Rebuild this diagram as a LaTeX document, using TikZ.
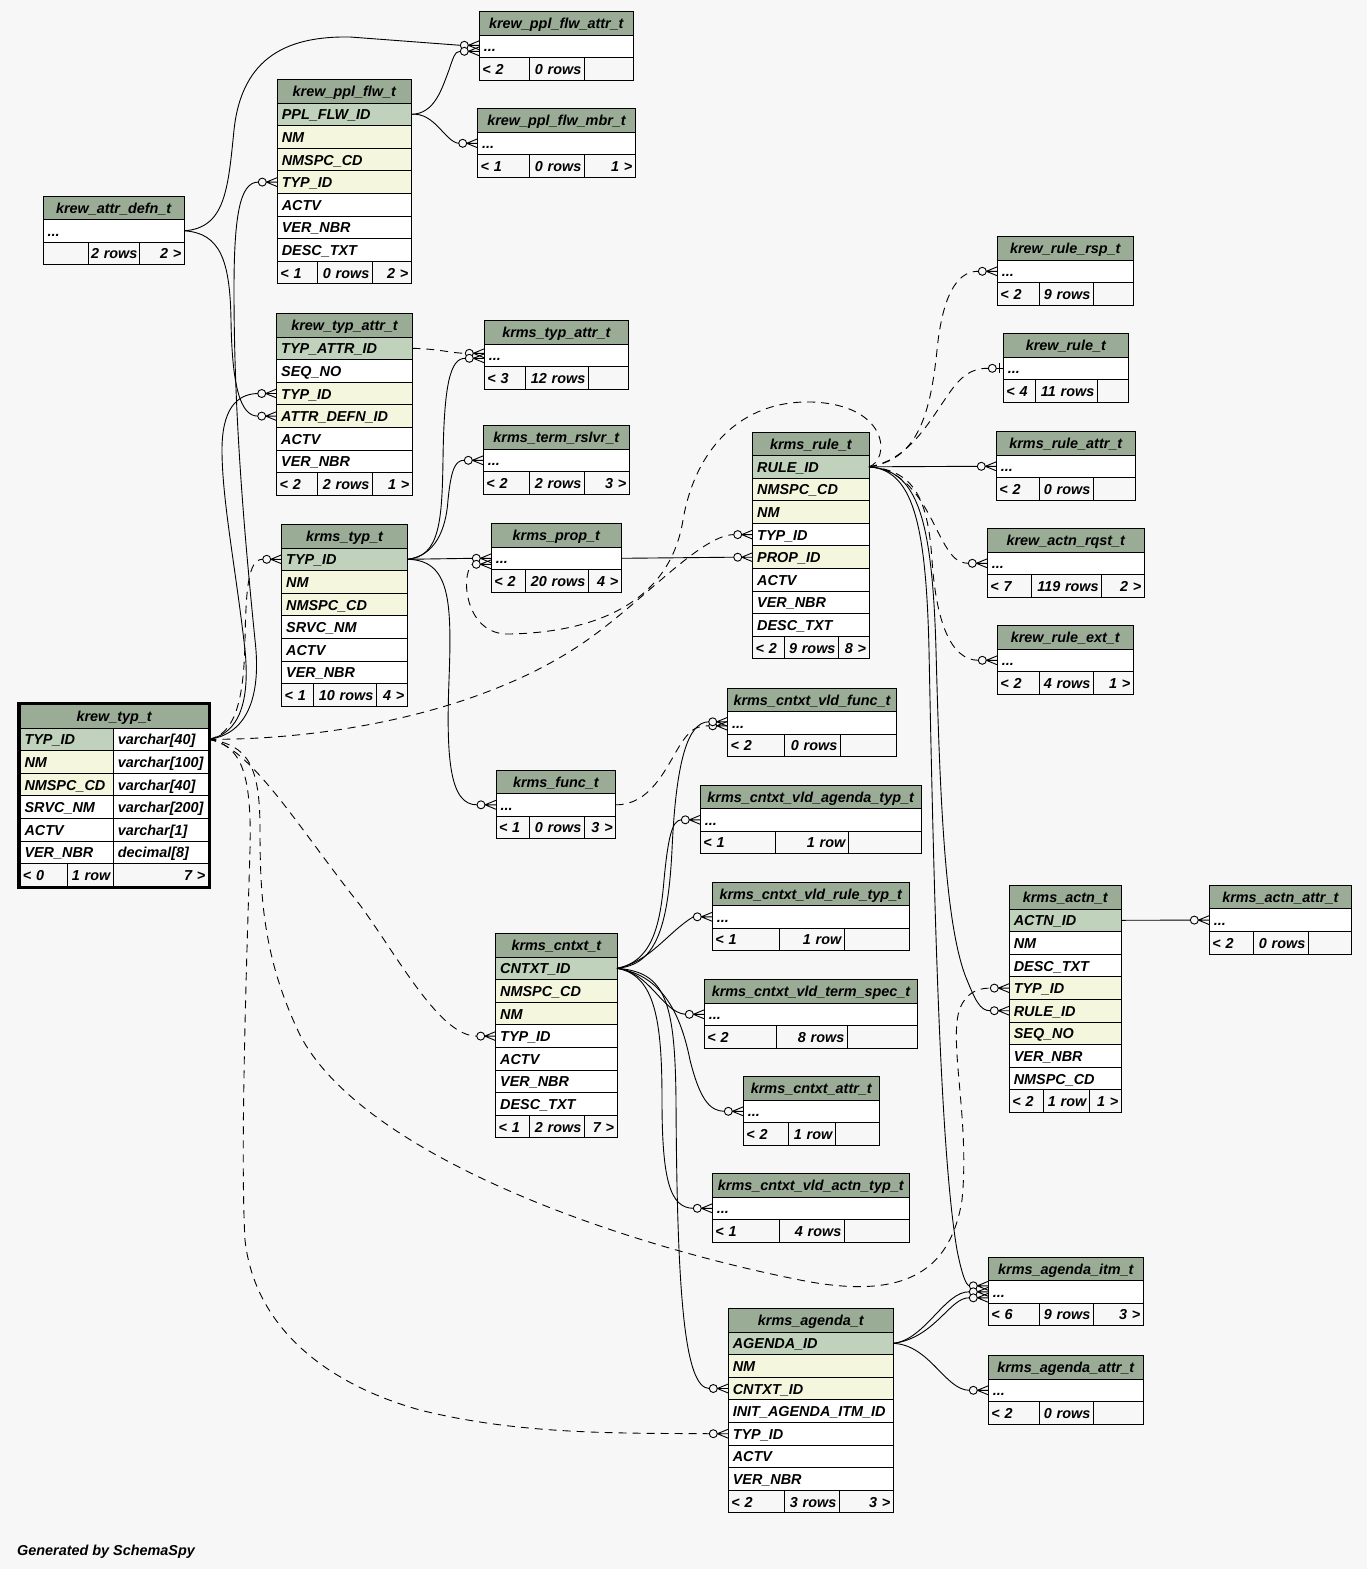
\documentclass[tikz,border=0pt]{standalone}
\usepackage{fontspec}
\setmainfont{Liberation Sans}
\usepackage{tikz}
\usetikzlibrary{positioning}
\usepackage{xcolor}

\definecolor{hdc}{RGB}{154,171,150}
\definecolor{pkc}{RGB}{192,209,188}
\definecolor{fkc}{RGB}{244,246,222}
\definecolor{bgc}{RGB}{247,247,247}
\newcommand\tblfont{\fontsize{14.4pt}{16pt}\selectfont\bfseries\itshape}
\newcommand\dts{...}

\tikzset{
  cell/.style={draw, line width=1pt, outer sep=0pt, inner xsep=4.5pt, inner ysep=0pt,
    minimum height=22.6pt, text height=12pt, text depth=1pt, font=\tblfont, align=left},
  tblhead/.style={cell, fill=hdc, align=center, minimum height=23.5pt, anchor=north west},
  tblrow/.style={cell},
  tblfoot/.style={cell, fill=bgc, inner xsep=3pt},
  rel/.style={line width=0.9pt},
  implied/.style={rel, dash pattern=on 8pt off 6pt},
}

\newcommand\tblbox[6]{%
  \pgfmathsetmacro\tblt{#4-#2-9}%
  \xdef\tblL{#2}\xdef\tblR{#4}%
  \node[tblhead, text width=\tblt pt] (#1-h) at (#2,#3) {#5};%
  \xdef\tblprev{#1-h}%
  \foreach \st/\lb [count=\rw] in {#6} {%
    \node[tblrow, fill=\st, text width=\tblt pt, below=0pt of \tblprev] (#1-\rw) {\lb};%
    \xdef\tblprev{#1-\rw}%
  }%
}
\newcommand\tblfoot[6]{%
  \pgfmathsetmacro\fwa{#2-\tblL-6}%
  \pgfmathsetmacro\fwb{#3-#2-6}%
  \pgfmathsetmacro\fwc{\tblR-#3-6}%
  \node[tblfoot, text width=\fwa pt, anchor=north west] (#1-fa) at (\tblprev.south west) {\mbox{#4}};%
  \node[tblfoot, text width=\fwb pt, align=right, anchor=north west] (#1-fb) at (#1-fa.north east) {\mbox{#5}};%
  \node[tblfoot, text width=\fwc pt, align=right, anchor=north west] (#1-fc) at (#1-fb.north east) {\mbox{#6}};%
}
\newcommand\crowfoot[2]{%
  \draw[line width=0.9pt] ([shift={(-11,#2)}]#1.west) -- ([shift={(0,#2-4.5)}]#1.west)
    ([shift={(-11,#2)}]#1.west) -- ([shift={(0,#2)}]#1.west)
    ([shift={(-11,#2)}]#1.west) -- ([shift={(0,#2+4.5)}]#1.west);
  \draw[line width=0.9pt, fill=bgc] ([shift={(-15,#2)}]#1.west) circle (4pt);
}
\newcommand\teedot[2]{%
  \draw[line width=0.9pt] ([shift={(-7,#2)}]#1.west) -- ([shift={(0,#2)}]#1.west);
  \draw[line width=1.5pt] ([shift={(-4,#2-5)}]#1.west) -- ([shift={(-4,#2+5)}]#1.west);
  \draw[line width=0.9pt, fill=bgc] ([shift={(-11,#2)}]#1.west) circle (4pt);
}

\begin{document}
\begin{tikzpicture}[x=1pt,y=-1pt]
\fill[bgc] (0,0) rectangle (1367,1569);
\useasboundingbox (0,0) rectangle (1367,1569);

\tblbox{pplflwattr}{479.3}{11.5}{633.3}{krew\_ppl\_flw\_attr\_t}{white/\dts}
\tblfoot{pplflwattr}{529.3}{584.3}{< 2}{0 rows}{}
\tblbox{pplflw}{277.3}{79.5}{411.3}{krew\_ppl\_flw\_t}{pkc/PPL\_FLW\_ID, fkc/NM, fkc/NMSPC\_CD, fkc/TYP\_ID, white/ACTV, white/VER\_NBR, white/DESC\_TXT}
\tblfoot{pplflw}{317.3}{372.3}{< 1}{0 rows}{2 >}
\tblbox{pplflwmbr}{477.7}{108.5}{635.3}{krew\_ppl\_flw\_mbr\_t}{white/\dts}
\tblfoot{pplflwmbr}{529.3}{584.3}{< 1}{0 rows}{1 >}
\tblbox{attrdefn}{43}{196}{184.3}{krew\_attr\_defn\_t}{white/\dts}
\tblfoot{attrdefn}{88}{139}{}{2 rows}{2 >}
\tblbox{typattr}{276.7}{313.5}{412.3}{krew\_typ\_attr\_t}{pkc/TYP\_ATTR\_ID, white/SEQ\_NO, fkc/TYP\_ID, fkc/ATTR\_DEFN\_ID, white/ACTV, white/VER\_NBR}
\tblfoot{typattr}{317.3}{372.3}{< 2}{2 rows}{1 >}
\tblbox{krmstypattr}{484.3}{320.5}{628.3}{krms\_typ\_attr\_t}{white/\dts}
\tblfoot{krmstypattr}{525.3}{588.3}{< 3}{12 rows}{}
\tblbox{termrslvr}{483.3}{425.5}{629.3}{krms\_term\_rslvr\_t}{white/\dts}
\tblfoot{termrslvr}{529.3}{584.3}{< 2}{2 rows}{3 >}
\tblbox{krmstyp}{281.7}{524.5}{407.3}{krms\_typ\_t}{pkc/TYP\_ID, fkc/NM, fkc/NMSPC\_CD, white/SRVC\_NM, white/ACTV, white/VER\_NBR}
\tblfoot{krmstyp}{313.3}{376.3}{< 1}{10 rows}{4 >}
\tblbox{prop}{491.3}{523.5}{621.3}{krms\_prop\_t}{white/\dts}
\tblfoot{prop}{525.3}{588.3}{< 2}{20 rows}{4 >}
\tblbox{rule}{752.7}{432}{869}{krms\_rule\_t}{pkc/RULE\_ID, fkc/NMSPC\_CD, fkc/NM, white/TYP\_ID, fkc/PROP\_ID, white/ACTV, white/VER\_NBR, white/DESC\_TXT}
\tblfoot{rule}{784.3}{838.5}{< 2}{9 rows}{8 >}
\tblbox{rulersp}{997.3}{236.5}{1133.3}{krew\_rule\_rsp\_t}{white/\dts}
\tblfoot{rulersp}{1039.3}{1093.3}{< 2}{9 rows}{}
\tblbox{krewrule}{1003.3}{333.5}{1128.3}{krew\_rule\_t}{white/\dts}
\tblfoot{krewrule}{1035.3}{1097.3}{< 4}{11 rows}{}
\tblbox{ruleattr}{996.3}{431.5}{1135.3}{krms\_rule\_attr\_t}{white/\dts}
\tblfoot{ruleattr}{1039.3}{1093.3}{< 2}{0 rows}{}
\tblbox{actnrqst}{987.3}{528.5}{1144.3}{krew\_actn\_rqst\_t}{white/\dts}
\tblfoot{actnrqst}{1031.3}{1101.7}{< 7}{119 rows}{2 >}
\tblbox{ruleext}{997.3}{625.5}{1133.3}{krew\_rule\_ext\_t}{white/\dts}
\tblfoot{ruleext}{1039.3}{1093.3}{< 2}{4 rows}{1 >}
\tblbox{vldfunc}{727.7}{688}{896.3}{krms\_cntxt\_vld\_func\_t}{white/\dts}
\tblfoot{vldfunc}{784.3}{840.3}{< 2}{0 rows}{}
\tblbox{func}{496}{770}{615.7}{krms\_func\_t}{white/\dts}
\tblfoot{func}{529.3}{584.3}{< 1}{0 rows}{3 >}
\tblbox{vldagenda}{700.3}{785}{921}{krms\_cntxt\_vld\_agenda\_typ\_t}{white/\dts}
\tblfoot{vldagenda}{775}{848.3}{< 1}{1 row}{}
\tblbox{vldruletyp}{712.3}{882}{909.3}{krms\_cntxt\_vld\_rule\_typ\_t}{white/\dts}
\tblfoot{vldruletyp}{779.3}{844.3}{< 1}{1 row}{}
\tblbox{cntxt}{495.7}{933.5}{617}{krms\_cntxt\_t}{pkc/CNTXT\_ID, fkc/NMSPC\_CD, fkc/NM, white/TYP\_ID, white/ACTV, white/VER\_NBR, white/DESC\_TXT}
\tblfoot{cntxt}{529.3}{584.3}{< 1}{2 rows}{7 >}
\tblbox{vldtermspec}{704.3}{979.5}{917.7}{krms\_cntxt\_vld\_term\_spec\_t}{white/\dts}
\tblfoot{vldtermspec}{776.3}{847.3}{< 2}{8 rows}{}
\tblbox{cntxtattr}{743.3}{1076.5}{879.3}{krms\_cntxt\_attr\_t}{white/\dts}
\tblfoot{cntxtattr}{788.3}{835.3}{< 2}{1 row}{}
\tblbox{vldactntyp}{712.3}{1173.5}{909.3}{krms\_cntxt\_vld\_actn\_typ\_t}{white/\dts}
\tblfoot{vldactntyp}{779.3}{844.3}{< 1}{4 rows}{}
\tblbox{actn}{1009.3}{885.5}{1121.3}{krms\_actn\_t}{pkc/ACTN\_ID, white/NM, white/DESC\_TXT, fkc/TYP\_ID, fkc/RULE\_ID, fkc/SEQ\_NO, white/VER\_NBR, white/NMSPC\_CD}
\tblfoot{actn}{1043.3}{1089.3}{< 2}{1 row}{1 >}
\tblbox{actnattr}{1209.3}{885.3}{1351.3}{krms\_actn\_attr\_t}{white/\dts}
\tblfoot{actnattr}{1253.3}{1308.3}{< 2}{0 rows}{}
\tblbox{agendaitm}{988.3}{1257}{1143.3}{krms\_agenda\_itm\_t}{white/\dts}
\tblfoot{agendaitm}{1039.3}{1093.3}{< 6}{9 rows}{3 >}
\tblbox{agenda}{728.3}{1308.5}{893.3}{krms\_agenda\_t}{pkc/AGENDA\_ID, fkc/NM, fkc/CNTXT\_ID, white/INIT\_AGENDA\_ITM\_ID, white/TYP\_ID, white/ACTV, white/VER\_NBR}
\tblfoot{agenda}{784.3}{839.3}{< 2}{3 rows}{3 >}
\tblbox{agendaattr}{988.3}{1355.5}{1143.3}{krms\_agenda\_attr\_t}{white/\dts}
\tblfoot{agendaattr}{1039.3}{1093.3}{< 2}{0 rows}{}

\node[tblhead, text width=179.3pt] (krewtyp-h) at (20,704.5) {krew\_typ\_t};
\xdef\tblprev{krewtyp-h}\xdef\tblL{20}\xdef\tblR{208.3}
\foreach \cl/\nm/\ty [count=\rw] in {pkc/TYP\_ID/varchar[40], fkc/NM/varchar[100], fkc/NMSPC\_CD/varchar[40], white/SRVC\_NM/varchar[200], white/ACTV/varchar[1], white/VER\_NBR/decimal[8]} {
  \node[tblrow, fill=\cl, text width=84.3pt, anchor=north west] (krewtyp-\rw) at (\tblprev.south west) {\nm};
  \node[tblrow, fill=white, text width=86pt, anchor=north west] (krewtyp-\rw-t) at (krewtyp-\rw.north east) {\ty};
  \xdef\tblprev{krewtyp-\rw}
}
\tblfoot{krewtyp}{67.3}{113.3}{< 0}{1 row}{7 >}
\draw[line width=2.6pt] ([shift={(-1.6,-1.6)}]krewtyp-h.north west) rectangle ([shift={(1.6,1.6)}]krewtyp-fc.south east);

\draw[rel] (attrdefn-1.east) .. controls (225,228) and (228,190) .. (234,130) .. controls (242,55) and (290,36) .. (350,37) -- ([shift={(-19,-1)}]pplflwattr-1.west);
\crowfoot{pplflwattr-1}{-1}
\draw[rel] (attrdefn-1.east) .. controls (220,233) and (230,260) .. (231,320) .. controls (232,385) and (240,416) .. ([shift={(-19,0)}]typattr-4.west);
\crowfoot{typattr-4}{0}

\draw[rel] (pplflw-1.east) .. controls (435,114) and (442,88) .. (449,70) .. controls (453,58) and (455,51) .. ([shift={(-19,5)}]pplflwattr-1.west);
\crowfoot{pplflwattr-1}{5}
\draw[rel] (pplflw-1.east) .. controls (435,112) and (445,142) .. ([shift={(-19,0)}]pplflwmbr-1.west);
\crowfoot{pplflwmbr-1}{0}

\draw[rel] (krewtyp-1-t.east) .. controls (245,735) and (262,700) .. (255,640) .. controls (245,540) and (234,420) .. (234,290) .. controls (234,215) and (240,182) .. ([shift={(-19,0)}]pplflw-4.west);
\crowfoot{pplflw-4}{0}
\draw[rel] (krewtyp-1-t.east) .. controls (240,734) and (250,700) .. (245,650) .. controls (236,570) and (222,500) .. (222,450) .. controls (222,410) and (236,394) .. ([shift={(-19,0)}]typattr-3.west);
\crowfoot{typattr-3}{0}
\draw[implied] (krewtyp-1-t.east) .. controls (235,735) and (244,700) .. (245,640) .. controls (246,590) and (248,559) .. ([shift={(-19,0)}]krmstyp-1.west);
\crowfoot{krmstyp-1}{0}
\draw[implied] (krewtyp-1-t.east) .. controls (330,740) and (480,712) .. (580,645) .. controls (640,605) and (700,535) .. ([shift={(-19,0)}]rule-4.west);
\crowfoot{rule-4}{0}
\draw[implied] (krewtyp-1-t.east) .. controls (250,745) and (300,830) .. (360,905) .. controls (400,960) and (440,1036) .. ([shift={(-19,0)}]cntxt-4.west);
\crowfoot{cntxt-4}{0}
\draw[implied] (krewtyp-1-t.east) .. controls (248,745) and (260,765) .. (260,830) .. controls (260,900) and (264,960) .. (300,1035) .. controls (360,1150) and (600,1240) .. (800,1280) .. controls (900,1300) and (950,1275) .. (962,1200) .. controls (970,1120) and (948,1040) .. (960,1008) .. controls (966,994) and (976,988) .. ([shift={(-19,0)}]actn-4.west);
\crowfoot{actn-4}{0}
\draw[implied] (krewtyp-1-t.east) .. controls (240,745) and (252,770) .. (250,850) .. controls (247,950) and (240,1150) .. (245,1240) .. controls (255,1330) and (330,1385) .. (420,1410) .. controls (520,1435) and (620,1433) .. ([shift={(-19,0)}]agenda-5.west);
\crowfoot{agenda-5}{0}

\draw[implied] (typattr-1.east) .. controls (440,349) and (450,353) .. ([shift={(-19,-2)}]krmstypattr-1.west);
\crowfoot{krmstypattr-1}{-2}

\draw[rel] (krmstyp-1.east) .. controls (440,557) and (442,520) .. (443,460) .. controls (444,385) and (450,358) .. ([shift={(-19,3)}]krmstypattr-1.west);
\crowfoot{krmstypattr-1}{3}
\draw[rel] (krmstyp-1.east) .. controls (435,556) and (446,530) .. (448,500) .. controls (451,470) and (455,460) .. ([shift={(-19,0)}]termrslvr-1.west);
\crowfoot{termrslvr-1}{0}
\draw[rel] (krmstyp-1.east) -- ([shift={(-19,0)}]prop-1.west);
\crowfoot{prop-1}{0}
\draw[rel] (krmstyp-1.east) .. controls (450,560) and (452,600) .. (449,680) .. controls (446,760) and (450,805) .. ([shift={(-19,0)}]func-1.west);
\crowfoot{func-1}{0}

\draw[rel] (prop-1.east) -- ([shift={(-19,0)}]rule-5.west);
\crowfoot{rule-5}{0}

\draw[implied] (rule-1.east) .. controls (890,460) and (890,405) .. (812,402) .. controls (740,400) and (695,450) .. (683,520) .. controls (670,600) and (600,632) .. (510,634) .. controls (465,636) and (460,575) .. ([shift={(-19,6)}]prop-1.west);
\crowfoot{prop-1}{6}
\draw[implied] (rule-1.east) .. controls (915,460) and (930,420) .. (937,350) .. controls (942,300) and (955,271) .. ([shift={(-19,0)}]rulersp-1.west);
\crowfoot{rulersp-1}{0}
\draw[implied] (rule-1.east) .. controls (910,460) and (930,420) .. (950,392) .. controls (960,378) and (970,368) .. ([shift={(-15,0)}]krewrule-1.west);
\teedot{krewrule-1}{0}
\draw[rel] (rule-1.east) -- ([shift={(-19,0)}]ruleattr-1.west);
\crowfoot{ruleattr-1}{0}
\draw[implied] (rule-1.east) .. controls (915,470) and (930,520) .. (945,545) .. controls (952,557) and (958,563) .. ([shift={(-19,0)}]actnrqst-1.west);
\crowfoot{actnrqst-1}{0}
\draw[implied] (rule-1.east) .. controls (915,470) and (928,500) .. (932,560) .. controls (936,620) and (950,660) .. ([shift={(-19,0)}]ruleext-1.west);
\crowfoot{ruleext-1}{0}
\draw[rel] (rule-1.east) .. controls (915,470) and (932,510) .. (936,650) .. controls (940,800) and (945,920) .. (965,975) .. controls (975,1000) and (980,1011) .. ([shift={(-19,0)}]actn-5.west);
\crowfoot{actn-5}{0}
\draw[rel] (rule-1.east) .. controls (912,470) and (926,520) .. (929,650) .. controls (934,900) and (940,1150) .. (957,1250) .. controls (962,1275) and (966,1285) .. ([shift={(-19,-6)}]agendaitm-1.west);
\crowfoot{agendaitm-1}{-6}

\draw[implied] (func-1.east) .. controls (650,805) and (665,770) .. (680,745) .. controls (690,730) and (695,726) .. ([shift={(-19,3)}]vldfunc-1.west);
\crowfoot{vldfunc-1}{3}

\draw[rel] (cntxt-1.east) .. controls (655,965) and (668,930) .. (672,850) .. controls (676,760) and (688,722) .. ([shift={(-19,-1)}]vldfunc-1.west);
\crowfoot{vldfunc-1}{-1}
\draw[rel] (cntxt-1.east) .. controls (650,962) and (660,930) .. (664,880) .. controls (668,838) and (672,820) .. ([shift={(-19,0)}]vldagenda-1.west);
\crowfoot{vldagenda-1}{0}
\draw[rel] (cntxt-1.east) .. controls (650,962) and (668,932) .. ([shift={(-19,0)}]vldruletyp-1.west);
\crowfoot{vldruletyp-1}{0}
\draw[rel] (cntxt-1.east) .. controls (650,972) and (662,1012) .. ([shift={(-19,0)}]vldtermspec-1.west);
\crowfoot{vldtermspec-1}{0}
\draw[rel] (cntxt-1.east) .. controls (660,975) and (680,1010) .. (690,1060) .. controls (700,1100) and (710,1111) .. ([shift={(-19,0)}]cntxtattr-1.west);
\crowfoot{cntxtattr-1}{0}
\draw[rel] (cntxt-1.east) .. controls (655,975) and (662,1020) .. (662,1100) .. controls (662,1180) and (670,1208) .. ([shift={(-19,0)}]vldactntyp-1.west);
\crowfoot{vldactntyp-1}{0}
\draw[rel] (cntxt-1.east) .. controls (665,972) and (675,1000) .. (676,1100) .. controls (677,1300) and (685,1388) .. ([shift={(-19,0)}]agenda-3.west);
\crowfoot{agenda-3}{0}

\draw[rel] (actn-1.east) -- ([shift={(-19,0)}]actnattr-1.west);
\crowfoot{actnattr-1}{0}

\draw[rel] (agenda-1.east) .. controls (925,1340) and (945,1291) .. ([shift={(-19,0)}]agendaitm-1.west);
\crowfoot{agendaitm-1}{0}
\draw[rel] (agenda-1.east) .. controls (935,1338) and (950,1297) .. ([shift={(-19,6)}]agendaitm-1.west);
\crowfoot{agendaitm-1}{6}
\draw[rel] (agenda-1.east) .. controls (930,1345) and (945,1390) .. ([shift={(-19,0)}]agendaattr-1.west);
\crowfoot{agendaattr-1}{0}

\node[anchor=base west, font=\tblfont, inner sep=0pt] (credit) at (17,1555) {Generated by SchemaSpy};
\end{tikzpicture}
\end{document}
